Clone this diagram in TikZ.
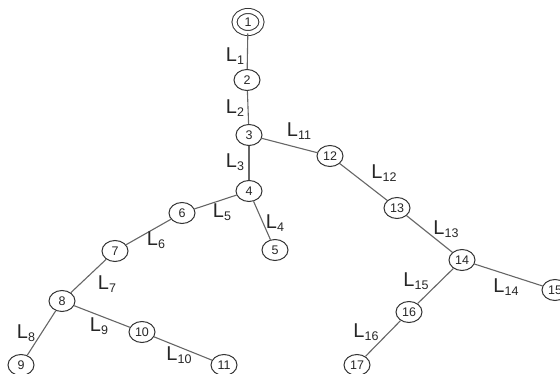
\documentclass[tikz,border=0pt]{standalone}
\usepackage{fontspec}
\setmainfont{Liberation Sans}
\usetikzlibrary{shapes.geometric}
\newcommand{\Lab}[1]{{\fontsize{20}{20}\selectfont L}\raisebox{-3.5pt}{\fontsize{12.5}{12.5}\selectfont #1}}
\begin{document}
\begin{tikzpicture}[x=1pt,y=-1pt,
  bus/.style={draw=black!80, ellipse, line width=1pt, minimum width=26pt, minimum height=21pt, inner sep=0pt, font=\fontsize{12.5}{12.5}\selectfont, text=black!85},
  root/.style={bus, double, double distance=4pt, minimum width=27pt, minimum height=22pt},
  line/.style={draw=black!60, line width=1.1pt},
  lab/.style={inner sep=0pt, text=black!85}]
\useasboundingbox (0,0) rectangle (560,374);
\clip (0,0) rectangle (560,374);
% nodes
\node[root] (n1) at (248,22) {1};
\node[bus] (n2) at (247,80) {2};
\node[bus] (n3) at (249,135) {3};
\node[bus] (n4) at (249,191) {4};
\node[bus] (n5) at (275,250) {5};
\node[bus] (n6) at (182,213) {6};
\node[bus] (n7) at (115,251) {7};
\node[bus] (n8) at (62,301) {8};
\node[bus] (n9) at (21,365) {9};
\node[bus] (n10) at (142,332) {10};
\node[bus] (n11) at (224,365) {11};
\node[bus] (n12) at (330,156) {12};
\node[bus] (n13) at (397,208) {13};
\node[bus] (n14) at (462,260) {14};
\node[bus] (n15) at (555,290) {15};
\node[bus] (n16) at (409,312) {16};
\node[bus] (n17) at (357,365) {17};
% connectors
\draw[line] (n1) -- (n2);
\draw[line] (n2) -- (n3);
\draw[line] (n3) -- (n4);
\draw[line] (n4) -- (n5);
\draw[line] (n4) -- (n6);
\draw[line] (n6) -- (n7);
\draw[line] (n7) -- (n8);
\draw[line] (n8) -- (n9);
\draw[line] (n8) -- (n10);
\draw[line] (n10) -- (n11);
\draw[line] (n3) -- (n12);
\draw[line] (n12) -- (n13);
\draw[line] (n13) -- (n14);
\draw[line] (n14) -- (n15);
\draw[line] (n14) -- (n16);
\draw[line] (n16) -- (n17);
% labels
\node[lab] (l1) at (235,56) {\Lab{1}};
\node[lab] (l2) at (235,108) {\Lab{2}};
\node[lab] (l3) at (235,162) {\Lab{3}};
\node[lab] (l4) at (275,223) {\Lab{4}};
\node[lab] (l5) at (222,212) {\Lab{5}};
\node[lab] (l6) at (156,240) {\Lab{6}};
\node[lab] (l7) at (107,284) {\Lab{7}};
\node[lab] (l8) at (26,333) {\Lab{8}};
\node[lab] (l9) at (99,326) {\Lab{9}};
\node[lab] (l10) at (179,355) {\Lab{10}};
\node[lab] (l11) at (299,131) {\Lab{11}};
\node[lab] (l12) at (384,173) {\Lab{12}};
\node[lab] (l13) at (446,229) {\Lab{13}};
\node[lab] (l14) at (506,287) {\Lab{14}};
\node[lab] (l15) at (416,281) {\Lab{15}};
\node[lab] (l16) at (366,332) {\Lab{16}};
\end{tikzpicture}
\end{document}
